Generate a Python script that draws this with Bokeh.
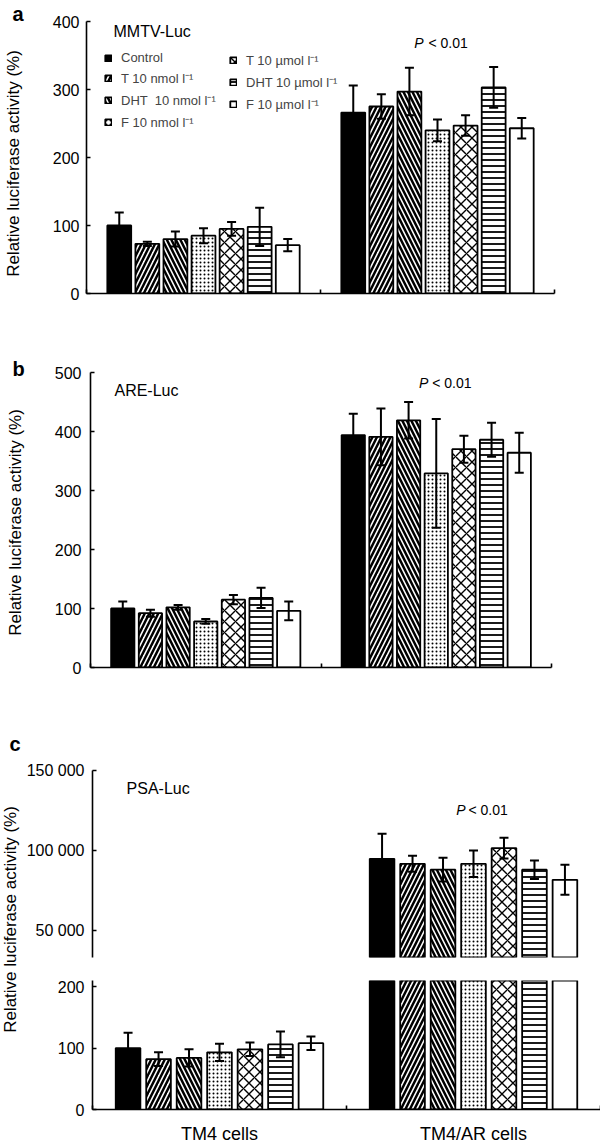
import math
from bokeh.plotting import figure
from bokeh.layouts import column, row
from bokeh.models import (ColumnDataSource, Whisker, TeeHead, Legend, LegendItem,
                          Label, FixedTicker, Range1d)
from bokeh.embed import file_html
from bokeh.resources import INLINE

# ---------------- data ----------------
groups = ["TM4 cells", "TM4/AR cells"]
treatments = ["Control", "T 10 nmol l\u207b\u00b9", "DHT  10 nmol l\u207b\u00b9",
              "F 10 nmol l\u207b\u00b9", "T 10 \u00b5mol l\u207b\u00b9",
              "DHT 10 \u00b5mol l\u207b\u00b9", "F 10 \u00b5mol l\u207b\u00b9"]

# a: MMTV-Luc
mmtv_tm4 = [100, 73, 80, 85, 95, 98, 71]
mmtv_tm4_err = [19, 3, 11, 11, 10, 28, 9]
mmtv_ar = [266, 275, 297, 240, 247, 303, 243]
mmtv_ar_err = [40, 18, 35, 16, 15, 30, 15]

# b: ARE-Luc
are_tm4 = [100, 92, 102, 78, 115, 118, 96]
are_tm4_err = [12, 6, 4, 4, 8, 17, 16]
are_ar = [394, 391, 419, 329, 370, 386, 364]
are_ar_err = [36, 48, 31, 92, 23, 29, 34]

# c: PSA-Luc
psa_tm4 = [100, 82, 84, 93, 98, 106, 108]
psa_tm4_err = [25, 11, 14, 14, 11, 21, 11]
psa_ar = [94800, 91700, 88000, 91700, 101500, 88000, 81700]
psa_ar_err = [15600, 5000, 7400, 8300, 6500, 5800, 9400]

a_ticks = [0, 100, 200, 300, 400]
b_ticks = [0, 100, 200, 300, 400, 500]
c_low_ticks = [0, 100, 200]
c_high_ticks = [50000, 100000, 150000]
c_high_labels = ["50 000", "100 000", "150 000"]

panel_names = ["MMTV-Luc", "ARE-Luc", "PSA-Luc"]
panel_letters = ["a", "b", "c"]
y_title = "Relative luciferase activity (%)"

# ---------------- styles ----------------
FONT = "Liberation Sans"
PITCH = 0.12
FILL = ["black", "white", "white", "white", "white", "white", "white"]
HATCH = [None, "/", "\\", ".", "x", "-", None]
HSCALE = [1, 9, 9, 4, 11, 6, 1]
HWEIGHT = [1, 2.5, 2.5, 1.0, 1.4, 1.8, 1]


def base_fig(fw, fh, x_end, yr, bl, br, bt, bb):
    p = figure(frame_width=fw, frame_height=fh, x_range=Range1d(0, x_end),
               y_range=Range1d(*yr), min_border_left=bl, min_border_right=br,
               min_border_top=bt, min_border_bottom=bb,
               output_backend="svg", toolbar_location=None)
    p.xgrid.visible = False
    p.ygrid.visible = False
    p.outline_line_color = None
    p.background_fill_color = "white"
    p.border_fill_color = "white"
    for ax in p.axis:
        ax.axis_line_width = 1.6
        ax.axis_line_color = "black"
        ax.major_tick_line_width = 1.6
        ax.major_tick_line_color = "black"
        ax.minor_tick_line_width = 1.6
        ax.minor_tick_line_color = "black"
        ax.major_tick_in = 4
        ax.major_tick_out = 0
        ax.minor_tick_in = 0
        ax.minor_tick_out = 0
        ax.major_label_text_font = FONT
        ax.major_label_text_font_size = "16px"
        ax.major_label_text_color = "black"
    return p


def boundary_xaxis(p, labels=False):
    if labels:
        p.xaxis.ticker = FixedTicker(ticks=[0.5, 1.5], minor_ticks=[0, 1, 2])
        p.xaxis.major_label_overrides = {0.5: groups[0], 1.5: groups[1]}
        p.xaxis.major_label_text_font_size = "18px"
        p.xaxis.major_tick_in = 0
        p.xaxis.major_label_standoff = 14
    else:
        p.xaxis.ticker = FixedTicker(ticks=[], minor_ticks=[0, 1, 2])
    p.xaxis.minor_tick_in = 4


def add_bars(p, v_tm4, v_ar, e_tm4, e_ar, bar_w, which=(0, 1)):
    rends = []
    wx, wu, wl = [], [], []
    for j in range(len(treatments)):
        off = (j - 3) * PITCH
        xs_all = [0.5 + off, 1.5 + off]
        tops_all = [v_tm4[j], v_ar[j]]
        errs_all = [e_tm4[j], e_ar[j]]
        xs = [xs_all[g] for g in which]
        tops = [tops_all[g] for g in which]
        errs = [errs_all[g] for g in which]
        src = ColumnDataSource(dict(x=xs, top=tops))
        kw = dict(fill_color=FILL[j], line_color="black", line_width=1.8)
        if HATCH[j]:
            kw.update(hatch_pattern=HATCH[j], hatch_scale=HSCALE[j],
                      hatch_weight=HWEIGHT[j], hatch_color="black")
        r = p.vbar(x="x", top="top", bottom=0, width=bar_w, source=src, **kw)
        rends.append(r)
        for x, t, e in zip(xs, tops, errs):
            wx.append(x)
            wu.append(t + e)
            wl.append(t - e)
    wsrc = ColumnDataSource(dict(x=wx, upper=wu, lower=wl))
    w = Whisker(source=wsrc, base="x", upper="upper", lower="lower",
                dimension="height", line_width=2, line_color="black",
                upper_head=TeeHead(size=9, line_width=2, line_color="black"),
                lower_head=TeeHead(size=9, line_width=2, line_color="black"),
                level="annotation")
    p.add_layout(w)
    return rends


def lab(p, x, y, text, size="16px", style="normal", align="left",
        baseline="middle", x_offset=0, angle=0):
    p.add_layout(Label(x=x, y=y, text=text, text_font=FONT, text_font_size=size,
                       text_font_style=style, text_align=align,
                       text_baseline=baseline, x_offset=x_offset, angle=angle,
                       text_color="black"))


def p_value(p, y, off_p, off_lt):
    lab(p, 1.5, y, "P", size="14px", style="italic", align="right", x_offset=off_p)
    lab(p, 1.5, y, "< 0.01", size="14px", align="left", x_offset=off_lt)


def mk_legend(items, loc):
    return Legend(items=items, location=loc, orientation="vertical",
                  glyph_width=8, glyph_height=8, label_height=15, spacing=4,
                  padding=0, margin=0, label_standoff=9,
                  label_text_font=FONT, label_text_font_size="13px",
                  border_line_color=None, background_fill_alpha=0)


def title_fig(w, h, title_x, title_y, letter, letter_x, letter_y):
    # y measured from the top of the strip (flipped range)
    t = figure(frame_width=w, frame_height=h, x_range=Range1d(0, w),
               y_range=Range1d(h, 0), min_border_left=0, min_border_right=0,
               min_border_top=0, min_border_bottom=0, x_axis_type=None,
               y_axis_type=None, output_backend="svg", toolbar_location=None)
    t.outline_line_color = None
    t.border_fill_color = "white"
    lab(t, title_x, title_y, y_title, size="17px", align="center", angle=math.pi / 2)
    lab(t, letter_x, letter_y, letter, size="20px", style="bold", baseline="alphabetic")
    return t


# ---------------- panel a ----------------
pa = base_fig(468, 272, 2, (0, 400), 60, 40, 21, 20)
pa.yaxis.ticker = FixedTicker(ticks=a_ticks)
pa.yaxis.major_label_standoff = 7
boundary_xaxis(pa)
ra = add_bars(pa, mmtv_tm4, mmtv_ar, mmtv_tm4_err, mmtv_ar_err, 0.102)
pa.add_layout(mk_legend([LegendItem(label=treatments[j], renderers=[ra[j]]) for j in range(4)], (18, 162)))
pa.add_layout(mk_legend([LegendItem(label=treatments[j], renderers=[ra[j]]) for j in range(4, 7)], (143, 180)))
lab(pa, 0.1154, 386, panel_names[0])
p_value(pa, 368, -14, -9)
ta = title_fig(26, 313, 13, 163, panel_letters[0], 12, 13)

# ---------------- panel b ----------------
pb = base_fig(461, 295, 2, (0, 500), 64, 40, 59, 20)
pb.yaxis.ticker = FixedTicker(ticks=b_ticks)
pb.yaxis.major_label_standoff = 9
boundary_xaxis(pb)
add_bars(pb, are_tm4, are_ar, are_tm4_err, are_ar_err, 0.101)
lab(pb, 0.104, 469, panel_names[1])
p_value(pb, 483, -8, -4)
tb = title_fig(26, 374, 15, 209, panel_letters[1], 12, 55)

# ---------------- panel c ----------------
C_W = 508
pct = base_fig(C_W, 187, 2, (33125, 150000), 67, 2, 83, 10)
pct.xaxis.visible = False
pct.yaxis.ticker = FixedTicker(ticks=c_high_ticks)
pct.yaxis.major_label_overrides = dict(zip(c_high_ticks, c_high_labels))
pct.yaxis.major_label_standoff = 8
add_bars(pct, psa_tm4, psa_ar, psa_tm4_err, psa_ar_err, 0.097, which=(1,))
lab(pct, 0.134, 139000, panel_names[2])
p_value(pct, 125600, -8, -5)

pcb = base_fig(C_W, 129, 2, (0, 210), 67, 2, 13, 35)
pcb.yaxis.ticker = FixedTicker(ticks=c_low_ticks)
pcb.yaxis.major_label_standoff = 8
boundary_xaxis(pcb, labels=True)
add_bars(pcb, psa_tm4, psa_ar, psa_tm4_err, psa_ar_err, 0.097)

tc = title_fig(23, 280 + 177, 10, 232, panel_letters[2], 9, 56)

layout = column(row(ta, column(pa)), row(tb, column(pb)), row(tc, column(pct, pcb)))

with open("out.html", "w") as f:
    f.write(file_html(layout, INLINE))
